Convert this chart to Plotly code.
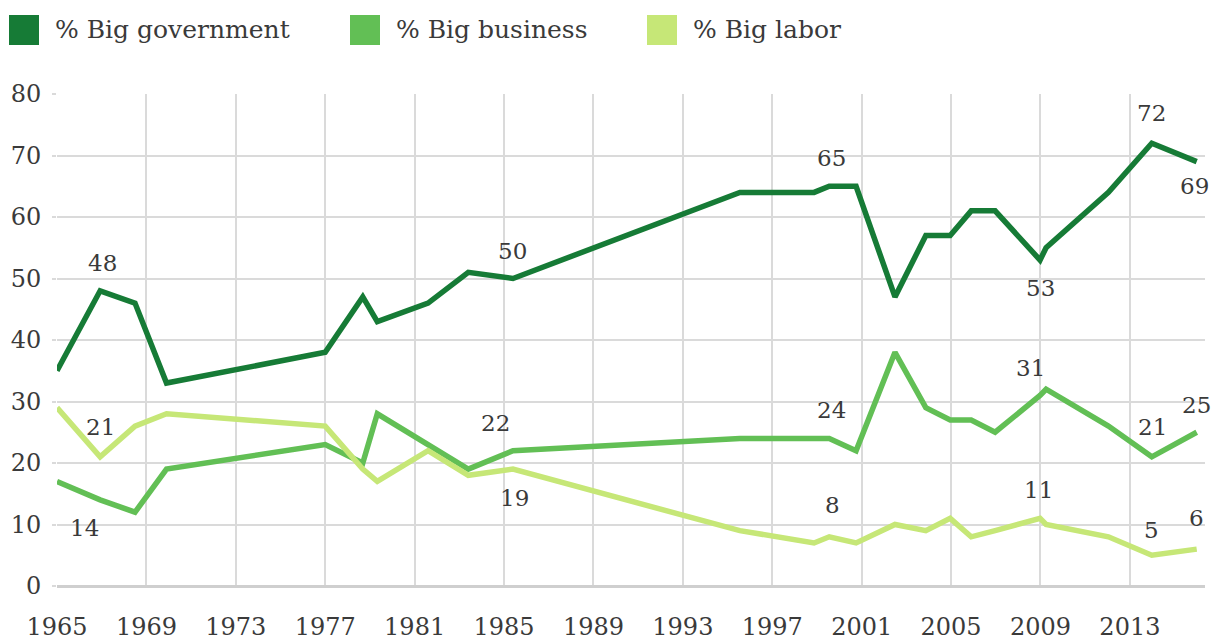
import plotly.graph_objects as go

# ---- data ----
years = [1965.0, 1966.93, 1968.49, 1969.9, 1977.0, 1978.68, 1979.33, 1981.6, 1983.4, 1985.4,
         1995.55, 1998.87, 1999.55, 2000.75, 2002.49, 2003.87, 2004.96, 2005.9, 2006.97,
         2008.98, 2009.25, 2012.04, 2013.98, 2015.99]
big_government = [35, 48, 46, 33, 38, 47, 43, 46, 51, 50, 64, 64, 65, 65, 47, 57, 57, 61, 61, 53, 55, 64, 72, 69]
big_business = [17, 14, 12, 19, 23, 20, 28, 23, 19, 22, 24, 24, 24, 22, 38, 29, 27, 27, 25, 31, 32, 26, 21, 25]
big_labor = [29, 21, 26, 28, 26, 19, 17, 22, 18, 19, 9, 7, 8, 7, 10, 9, 11, 8, 9, 11, 10, 8, 5, 6]
series_names = ["% Big government", "% Big business", "% Big labor"]
x_tick_values = list(range(1965, 2014, 4))
x_tick_labels = [str(y) for y in x_tick_values]
y_tick_values = list(range(0, 81, 10))

# labelled points: (index into series, x shift px, y shift px)
gov_labels = [(1, 2, 28), (9, 0, 28), (12, 2, 28), (19, 0, -28), (22, 0, 30), (23, -2, -24)]
bus_labels = [(1, -16, -28), (9, -17, 28), (12, 2, 28), (19, -10, 27), (22, 1, 30), (23, 0, 27)]
lab_labels = [(1, 0, 30), (9, 2, -29), (12, 3, 32), (19, -2, 28), (22, 0, 25), (23, 0, 31)]

# ---- style ----
colors = ["#167b36", "#62bf55", "#c6e777"]
FONT = "DejaVu Serif"
TXT = "#3a3a3a"
W, H = 1216, 643
L, R, T, B = 57, 11, 94, 57
PW, PH = W - L - R, H - T - B

fig = go.Figure()
all_series = [big_government, big_business, big_labor]
for name, vals, col in zip(series_names, all_series, colors):
    fig.add_trace(go.Scatter(x=years, y=vals, mode="lines", name=name,
                             line=dict(color=col, width=5.5), showlegend=False,
                             hoverinfo="x+y"))

annotations = []
for vals, specs in zip(all_series, [gov_labels, bus_labels, lab_labels]):
    for idx, dx, dy in specs:
        annotations.append(dict(x=years[idx], y=vals[idx], xref="x", yref="y",
                                text=str(vals[idx]), showarrow=False,
                                xshift=dx, yshift=dy,
                                font=dict(family=FONT, size=23, color=TXT)))

# manual legend (big squares)
def px_x(p):
    return (p - L) / PW

def px_y(p):
    return (H - B - p) / PH

shapes = []
legend_x = [9, 350, 647]
for lx, name, col in zip(legend_x, series_names, colors):
    shapes.append(dict(type="rect", xref="paper", yref="paper",
                       x0=px_x(lx), x1=px_x(lx + 30), y0=px_y(45), y1=px_y(15),
                       fillcolor=col, line=dict(width=0)))
    annotations.append(dict(x=px_x(lx + 44), y=px_y(29), xref="paper", yref="paper",
                            xanchor="left", yanchor="middle", text=name, showarrow=False,
                            font=dict(family=FONT, size=25, color=TXT)))

fig.update_layout(
    width=W, height=H,
    margin=dict(l=L, r=R, t=T, b=B, pad=0),
    paper_bgcolor="white", plot_bgcolor="white",
    showlegend=False,
    annotations=annotations, shapes=shapes,
    xaxis=dict(range=[1965, 2016.36], tickvals=x_tick_values, ticktext=x_tick_labels,
               showgrid=True, gridcolor="#dadada", gridwidth=1.5, zeroline=False,
               showline=False, ticks="", ticklabelstandoff=24, automargin=False,
               tickfont=dict(family=FONT, size=24, color=TXT)),
    yaxis=dict(range=[0, 80], tickvals=y_tick_values, showgrid=True, gridcolor="#dadada",
               gridwidth=1.5, zeroline=True, zerolinecolor="#cfcfcf", zerolinewidth=3,
               ticks="outside", ticklen=4, tickcolor="#dadada", tickwidth=1.5,
               ticklabelstandoff=6, automargin=False,
               tickfont=dict(family=FONT, size=24, color=TXT)),
)

fig.write_html("out.html", config={"displayModeBar": False},
               post_script="document.body.style.margin='0';document.body.style.overflow='hidden';")
